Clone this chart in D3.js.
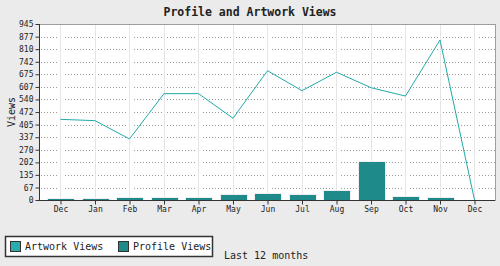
<!DOCTYPE html>
<html>
<head>
<meta charset="utf-8">
<script src="https://cdn.jsdelivr.net/npm/d3@7"></script>
<style>
  body { margin: 0; background: #ebebeb; }
  svg { display: block; font-family: "DejaVu Sans Mono", monospace; }
</style>
</head>
<body>
<div id="container"></div>
<script>
var width = 500;
var height = 266;

// data
var months = ["Dec", "Jan", "Feb", "Mar", "Apr", "May", "Jun", "Jul", "Aug", "Sep", "Oct", "Nov", "Dec"];
var artworkViews = [433, 426, 328, 571, 571, 439, 694, 587, 686, 603, 558, 859, 0];
var profileViews = [12, 12, 18, 18, 18, 34, 39, 32, 55, 211, 23, 18, 0];
var yTicks = [0, 67, 135, 202, 270, 337, 405, 472, 540, 607, 675, 742, 810, 877, 945];

var svg = d3.select("div#container").append("svg")
    .attr("width", width)
    .attr("height", height);

// plot box
var pLeft = 39, pRight = 495, pTop = 24, pBottom = 200;

var x = d3.scalePoint()
    .domain(d3.range(months.length))
    .range([60.5, 474.5]);

var y = d3.scaleLinear()
    .domain([0, 945])
    .range([pBottom, pTop]);

// plot area
svg.append("rect")
    .attr("x", pLeft + 0.5).attr("y", pTop + 0.5)
    .attr("width", pRight - pLeft).attr("height", pBottom - pTop)
    .attr("fill", "#fff")
    .attr("stroke", "#a0a0a0");

// horizontal dotted grid
svg.append("g").selectAll("line")
    .data(yTicks.slice(1))
    .enter().append("line")
    .attr("x1", pLeft + 2).attr("x2", pRight)
    .attr("y1", function(d) { return Math.round(y(d)) + 0.5; })
    .attr("y2", function(d) { return Math.round(y(d)) + 0.5; })
    .attr("stroke", "#999")
    .attr("stroke-dasharray", "1,2");

// vertical grid (with a small white gap around it)
var vgrid = svg.append("g");
vgrid.selectAll("line.gap")
    .data(d3.range(months.length))
    .enter().append("line")
    .attr("class", "gap")
    .attr("x1", function(d) { return Math.floor(x(d)) + 0.5; })
    .attr("x2", function(d) { return Math.floor(x(d)) + 0.5; })
    .attr("y1", pTop + 1).attr("y2", pBottom)
    .attr("stroke", "#fff").attr("stroke-width", 5);
vgrid.selectAll("line.grid")
    .data(d3.range(months.length))
    .enter().append("line")
    .attr("class", "grid")
    .attr("x1", function(d) { return Math.floor(x(d)) + 0.5; })
    .attr("x2", function(d) { return Math.floor(x(d)) + 0.5; })
    .attr("y1", pTop + 1).attr("y2", pBottom)
    .attr("stroke", "#e6e6e6");

// profile bars
var barW = 27;
var barData = profileViews
    .map(function(v, i) { return { i: i, v: v }; })
    .filter(function(d) { return d.v > 0; });

svg.append("g").selectAll("rect")
    .data(barData)
    .enter().append("rect")
    .attr("x", function(d) { return Math.round(x(d.i) - barW / 2) + 0.5; })
    .attr("y", function(d) { return Math.round(y(d.v)) + 0.5; })
    .attr("width", barW)
    .attr("height", function(d) { return pBottom - Math.round(y(d.v)); })
    .attr("fill", "#1e8a8a")
    .attr("stroke", "#eeeeee");

// artwork line
var line = d3.line()
    .x(function(d, i) { return x(i); })
    .y(function(d) { return y(d); });

svg.append("path")
    .datum(artworkViews)
    .attr("d", line)
    .attr("fill", "none")
    .attr("stroke", "#22aaaa")
    .attr("stroke-width", 1);

// axes
var yAxis = d3.axisLeft(y)
    .tickValues(yTicks)
    .tickSize(4)
    .tickPadding(2)
    .tickFormat(d3.format("d"));

svg.append("g")
    .attr("transform", "translate(" + (pLeft + 0.5) + ",0)")
    .call(yAxis)
    .call(function(g) {
        g.select(".domain").attr("stroke", "#333").attr("d", "M0," + pTop + "V" + pBottom);
        g.selectAll(".tick line").attr("stroke", "#333");
        g.selectAll("text").attr("font-size", 8).attr("fill", "#222")
            .attr("font-family", "DejaVu Sans Mono, monospace");
    });

var xAxis = d3.axisBottom(x)
    .tickSize(4)
    .tickPadding(2)
    .tickFormat(function(i) { return months[i]; });

svg.append("g")
    .attr("transform", "translate(0," + (pBottom + 0.5) + ")")
    .call(xAxis)
    .call(function(g) {
        g.select(".domain").attr("stroke", "#333").attr("d", "M" + pLeft + ",0H" + pRight);
        g.selectAll(".tick line").attr("stroke", "#333");
        g.selectAll("text").attr("font-size", 8).attr("fill", "#222")
            .attr("font-family", "DejaVu Sans Mono, monospace");
    });

// title
svg.append("text")
    .attr("x", 250).attr("y", 16)
    .attr("text-anchor", "middle")
    .attr("font-size", 11.5)
    .attr("font-weight", "bold")
    .attr("fill", "#222")
    .text("Profile and Artwork Views");

// y label
svg.append("text")
    .attr("transform", "translate(15," + ((pTop + pBottom) / 2) + ") rotate(-90)")
    .attr("text-anchor", "middle")
    .attr("font-size", 10)
    .attr("fill", "#222")
    .text("Views");

// x label
svg.append("text")
    .attr("x", 224).attr("y", 259)
    .attr("font-size", 10)
    .attr("fill", "#222")
    .text("Last 12 months");

// legend
var legend = svg.append("g");
legend.append("rect")
    .attr("x", 5.5).attr("y", 236.5)
    .attr("width", 207).attr("height", 20)
    .attr("fill", "#fff")
    .attr("stroke", "#333")
    .attr("stroke-width", 1.5);

var legendItems = [
    { name: "Artwork Views", color: "#2aacac", x: 10 },
    { name: "Profile Views", color: "#1e8a8a", x: 118 }
];

var li = legend.selectAll("g.item")
    .data(legendItems)
    .enter().append("g")
    .attr("class", "item");
li.append("rect")
    .attr("x", function(d) { return d.x + 0.5; })
    .attr("y", 241.5)
    .attr("width", 10).attr("height", 10)
    .attr("fill", function(d) { return d.color; })
    .attr("stroke", "#333");
li.append("text")
    .attr("x", function(d) { return d.x + 15; })
    .attr("y", 250)
    .attr("font-size", 10)
    .attr("fill", "#222")
    .text(function(d) { return d.name; });
</script>
</body>
</html>
